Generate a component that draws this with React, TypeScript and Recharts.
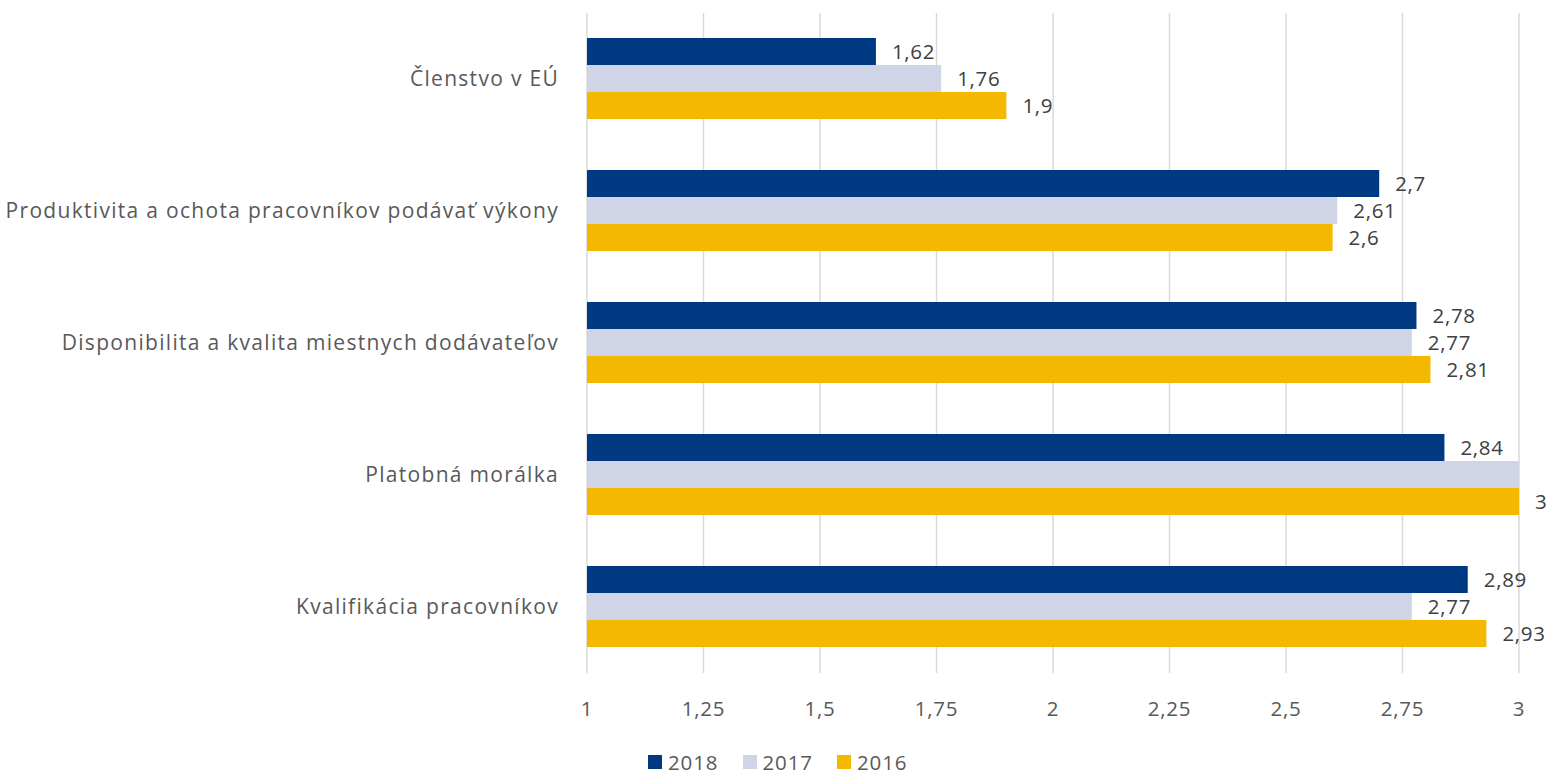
import React from 'react';
import { BarChart, Bar, XAxis, YAxis, CartesianGrid, Legend, LabelList } from 'recharts';

const categories = [
  'Členstvo v EÚ',
  'Produktivita a ochota pracovníkov podávať výkony',
  'Disponibilita a kvalita miestnych dodávateľov ',
  'Platobná morálka',
  'Kvalifikácia pracovníkov',
];
const values2018 = [1.62, 2.7, 2.78, 2.84, 2.89];
const values2017 = [1.76, 2.61, 2.77, 3, 2.77];
const values2016 = [1.9, 2.6, 2.81, 3, 2.93];
const xTicks = [1, 1.25, 1.5, 1.75, 2, 2.25, 2.5, 2.75, 3];
// labels Excel dropped because they collided
const hidden2017 = [3];

const series = [
  { key: 'y2018', name: '2018', color: '#003882' },
  { key: 'y2017', name: '2017', color: '#cfd5e6' },
  { key: 'y2016', name: '2016', color: '#f5b800' },
];

const data = categories.map((name, i) => ({
  name,
  y2018: values2018[i],
  y2017: values2017[i],
  y2016: values2016[i],
}));

const FONT = '"Open Sans", sans-serif';
const fmt = (v: number) => String(v).replace('.', ',');

const valueLabel = (hidden: number[] = []) => (props: any) => {
  const { x, y, width, height, value, index } = props;
  if (hidden.includes(index)) return null;
  return (
    <text
      x={x + width + 16}
      y={y + height / 2}
      dy={7.5}
      fill="#404040"
      fontSize={20.5}
      letterSpacing={0.7}
      fontFamily={FONT}
    >
      {fmt(value)}
    </text>
  );
};

const LegendBox = () => (
  <div style={{ display: 'flex', height: 40, paddingTop: 18, boxSizing: 'border-box', fontFamily: FONT }}>
    {series.map((s) => (
      <div key={s.key} style={{ display: 'flex', alignItems: 'center', height: 20, marginRight: 24 }}>
        <span style={{ width: 14, height: 14, background: s.color, display: 'inline-block', marginRight: 6 }} />
        <span style={{ fontSize: 20.5, letterSpacing: 0.9, color: '#595959', lineHeight: '20px' }}>{s.name}</span>
      </div>
    ))}
  </div>
);

export default function App() {
  return (
    <div style={{ position: 'absolute', left: 0, top: 0 }}>
      <BarChart
        width={1546}
        height={774}
        data={data}
        layout="vertical"
        margin={{ top: 13, right: 27, left: 0, bottom: 0 }}
        barCategoryGap="19%"
        barGap={0}
      >
        <CartesianGrid horizontal={false} stroke="#d9d9d9" strokeWidth={1.5} />
        <XAxis
          type="number"
          domain={[1, 3]}
          ticks={xTicks}
          tickFormatter={fmt}
          axisLine={false}
          tickLine={false}
          tickMargin={22}
          height={61}
          tick={{ fill: '#595959', fontSize: 20.5, letterSpacing: 0.7, fontFamily: FONT }}
        />
        <YAxis
          type="category"
          dataKey="name"
          width={587}
          axisLine={false}
          tickLine={false}
          tickMargin={22}
          tick={{ fill: '#595959', fontSize: 21, letterSpacing: 1.3, fontFamily: FONT }}
        />
        <Legend
          verticalAlign="bottom"
          height={40}
          content={<LegendBox />}
          wrapperStyle={{ left: 648, width: 'auto' }}
        />
        {series.map((s) => (
          <Bar key={s.key} dataKey={s.key} name={s.name} fill={s.color} isAnimationActive={false}>
            <LabelList dataKey={s.key} content={valueLabel(s.key === 'y2017' ? hidden2017 : [])} />
          </Bar>
        ))}
      </BarChart>
    </div>
  );
}
